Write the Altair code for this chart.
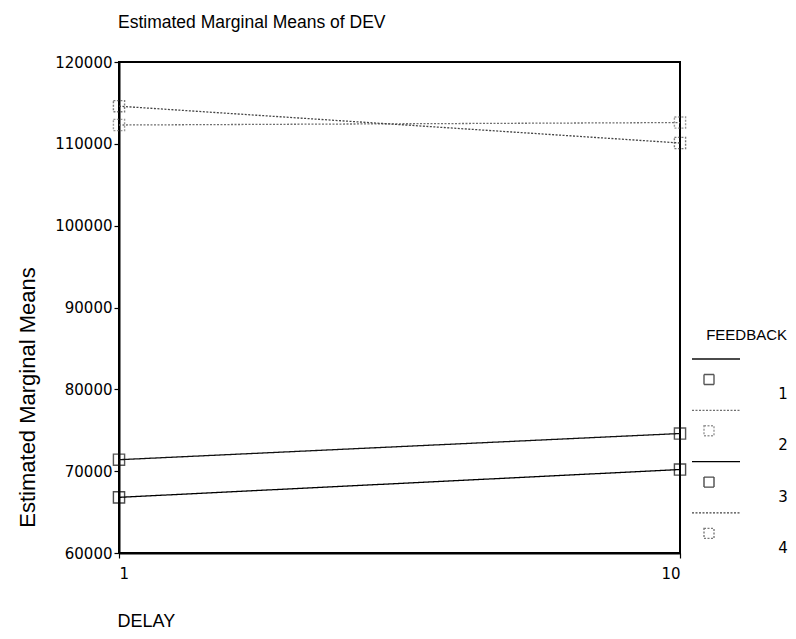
import altair as alt
import pandas as pd

# ---- data ----
delay = [1, 10]
feedback = ["1", "2", "3", "4"]
means_f1 = [71400, 74600]
means_f2 = [112300, 112600]
means_f3 = [66800, 70200]
means_f4 = [114600, 110100]
y_ticks = [60000, 70000, 80000, 90000, 100000, 110000, 120000]
x_ticks = [1, 10]
chart_title = "Estimated Marginal Means of DEV"
legend_title = "FEEDBACK"

series = {"1": means_f1, "2": means_f2, "3": means_f3, "4": means_f4}
rows = []
for f in feedback:
    for d, v in zip(delay, series[f]):
        rows.append({"DELAY": d, "FEEDBACK": f, "mean": v})
df = pd.DataFrame(rows)

colors = ["#111111", "#6f6f6f", "#000000", "#444444"]
dashes = [[1, 0], [2, 1.5], [1, 0], [2, 1.5]]

color_scale = alt.Scale(domain=feedback, range=colors)
dash_scale = alt.Scale(domain=feedback, range=dashes)

W, H = 561, 491

x = alt.X("DELAY:Q", scale=alt.Scale(domain=[1, 10], nice=False),
          axis=alt.Axis(values=x_ticks, title="DELAY", grid=False,
                        tickSize=5, labelPadding=8, titleX=-2, titleY=73,
                        titleAlign="left", titleBaseline="alphabetic",
                        titleAngle=0, titleAnchor="start"))
y = alt.Y("mean:Q", scale=alt.Scale(domain=[60000, 120000], nice=False, zero=False),
          axis=alt.Axis(values=y_ticks, format="d", title="Estimated Marginal Means",
                        grid=False, tickSize=5, labelPadding=2,
                        titleX=-85, titleY=335, titleAngle=270,
                        titleAlign="center", titleBaseline="alphabetic"))

base = alt.Chart(df).encode(
    x=x, y=y,
    color=alt.Color("FEEDBACK:N", scale=color_scale, legend=None),
    strokeDash=alt.StrokeDash("FEEDBACK:N", scale=dash_scale, legend=None),
)
lines = base.mark_line(strokeWidth=1.3)
points = base.mark_point(shape="square", filled=False, size=125, strokeWidth=1.4)

# ---- manual legend ----
leg = pd.DataFrame({"FEEDBACK": feedback, "idx": list(range(len(feedback)))})
leg_base = alt.Chart(leg).transform_calculate(
    ly="297 + 51.3 * datum.idx",
    by="317.5 + 51.3 * datum.idx",
    ty="332 + 51.3 * datum.idx",
)
leg_lines = leg_base.mark_rule(strokeWidth=1.3).encode(
    x=alt.value(573), x2=alt.value(621),
    y=alt.Y("ly:Q", scale=None),
    color=alt.Color("FEEDBACK:N", scale=color_scale, legend=None),
    strokeDash=alt.StrokeDash("FEEDBACK:N", scale=dash_scale, legend=None),
)
leg_boxes = leg_base.mark_point(shape="square", filled=False, size=100, strokeWidth=1.4).encode(
    x=alt.value(590),
    y=alt.Y("by:Q", scale=None),
    color=alt.Color("FEEDBACK:N", scale=color_scale, legend=None),
    strokeDash=alt.StrokeDash("FEEDBACK:N", scale=dash_scale, legend=None),
)
leg_labels = leg_base.mark_text(font="DejaVu Sans", fontSize=15, align="center",
                                baseline="middle", color="black").encode(
    x=alt.value(664),
    y=alt.Y("ty:Q", scale=None),
    text="FEEDBACK:N",
)
leg_title = alt.Chart(pd.DataFrame({"t": [legend_title]})).mark_text(
    font="Liberation Sans", fontSize=15, align="right", baseline="middle", color="black"
).encode(x=alt.value(668), y=alt.value(273), text="t:N")

title_mark = alt.Chart(pd.DataFrame({"t": [chart_title]})).mark_text(
    font="Liberation Sans", fontSize=17.5, align="left", baseline="alphabetic", color="black"
).encode(x=alt.value(-1), y=alt.value(-34), text="t:N")

chart = alt.layer(lines, points, leg_lines, leg_boxes, leg_labels, leg_title, title_mark).properties(
    width=W, height=H,
    autosize=alt.AutoSizeParams(type="none"),
    padding={"left": 111, "top": 54, "right": 108, "bottom": 76},
).configure_view(stroke="black", strokeWidth=2).configure_axis(
    domainColor="black", domainWidth=2, tickColor="black", tickWidth=1.2,
    labelFont="DejaVu Sans", labelFontSize=15, labelColor="black",
    titleFont="Liberation Sans", titleFontSize=18, titleFontWeight="normal",
    titleColor="black",
).configure_axisY(titleFontSize=22)

chart.save("out.html", embed_options={"renderer": "svg", "actions": False})
